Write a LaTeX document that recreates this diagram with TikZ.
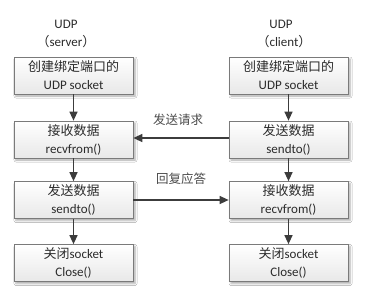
\documentclass[tikz,border=0pt]{standalone}
\usepackage{fontspec}
\setmainfont{Carlito}
\newfontfamily\cjk{Noto Sans CJK SC}
\usetikzlibrary{arrows.meta,shadows.blur}
\definecolor{txt}{HTML}{2B2B2B}
\definecolor{edge}{HTML}{7A7A7A}
\definecolor{arr}{HTML}{3C3C3C}
\tikzset{
  stepbox/.style={draw=edge, line width=0.7bp, top color=white, bottom color=black!9,
    minimum width=119bp, minimum height=37bp, inner sep=0pt, align=center,
    font=\fontsize{13bp}{18bp}\selectfont, text=txt,
    blur shadow={shadow xshift=2bp, shadow yshift=-2bp, shadow blur steps=4, shadow opacity=35, shadow blur radius=2bp}},
  flow/.style={draw=arr, line width=1.3bp, -{Triangle[length=9bp,width=8bp]}},
  head/.style={font=\fontsize{13bp}{16bp}\selectfont, text=txt, inner sep=0pt},
  lbl/.style={font=\fontsize{12.5bp}{15bp}\selectfont\cjk, text=black!70, inner sep=0pt}
}
\begin{document}
\begin{tikzpicture}[x=1bp,y=-1bp]
\useasboundingbox[fill=white] (0,0) rectangle (368,291);
\node[head] (hs1) at (66,24) {UDP};
\node[head] (hs2) at (66,42) {{\cjk （}server{\cjk ）}};
\node[head] (hc1) at (281,24) {UDP};
\node[head] (hc2) at (284,42) {{\cjk （}client{\cjk ）}};

\node[stepbox] (l1) at (73.5,75.5) {{\cjk 创建绑定端口的}\\UDP socket};
\node[stepbox] (l2) at (73.5,139.5) {{\cjk 接收数据}\\recvfrom()};
\node[stepbox] (l3) at (73.5,200) {{\cjk 发送数据}\\sendto()};
\node[stepbox] (l4) at (73.5,263) {{\cjk 关闭}socket\\Close()};

\node[stepbox] (r1) at (288.5,75.5) {{\cjk 创建绑定端口的}\\UDP socket};
\node[stepbox] (r2) at (288.5,139.5) {{\cjk 发送数据}\\sendto()};
\node[stepbox] (r3) at (288.5,200) {{\cjk 接收数据}\\recvfrom()};
\node[stepbox] (r4) at (288.5,263) {{\cjk 关闭}socket\\Close()};

\draw[flow] (l1) -- (l2);
\draw[flow] (l2) -- (l3);
\draw[flow] (l3) -- (l4);
\draw[flow] (r1) -- (r2);
\draw[flow] (r2) -- (r3);
\draw[flow] (r3) -- (r4);

\draw[flow] ([yshift=1.5bp]r2.west) -- ([yshift=1.5bp]l2.east);
\draw[flow] (l3.east) -- (r3.west);

\node[lbl] (q) at (178,120) {发送请求};
\node[lbl] (a) at (181,179) {回复应答};
\end{tikzpicture}
\end{document}
